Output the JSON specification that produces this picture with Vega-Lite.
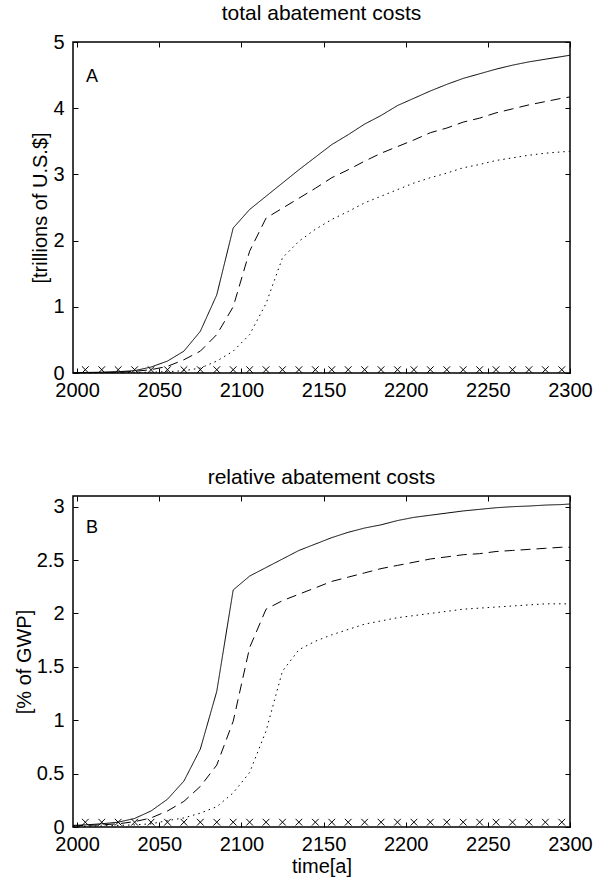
{
  "$schema": "https://vega.github.io/schema/vega-lite/v6.json",
  "padding": {"left": 13, "top": 2, "right": 5, "bottom": 5},
  "background": "white",
  "config": {
    "font": "Liberation Sans",
    "view": {"stroke": "black", "strokeWidth": 1.5},
    "axis": {
      "domain": false, "grid": false, "ticks": true, "tickSize": -5, "tickColor": "black", "tickWidth": 1,
      "labelFont": "Liberation Sans", "labelFontSize": 20, "labelColor": "black",
      "titleFont": "Liberation Sans", "titleFontSize": 20, "titleFontWeight": "normal", "titleColor": "black",
      "labelFlush": false, "labelOverlap": false
    },
    "title": {"font": "Liberation Sans", "fontSize": 21, "fontWeight": "normal", "color": "black", "offset": 8}
  },
  "spacing": 64,
  "datasets": {
    "lines": [
      {"panel":"A","series":"solid","year":1997.5,"value":0.005},
      {"panel":"A","series":"solid","year":2005,"value":0.008},
      {"panel":"A","series":"solid","year":2015,"value":0.012},
      {"panel":"A","series":"solid","year":2025,"value":0.02},
      {"panel":"A","series":"solid","year":2035,"value":0.035},
      {"panel":"A","series":"solid","year":2045,"value":0.09},
      {"panel":"A","series":"solid","year":2055,"value":0.18},
      {"panel":"A","series":"solid","year":2065,"value":0.33},
      {"panel":"A","series":"solid","year":2075,"value":0.63},
      {"panel":"A","series":"solid","year":2085,"value":1.18},
      {"panel":"A","series":"solid","year":2095,"value":2.19},
      {"panel":"A","series":"solid","year":2105,"value":2.47},
      {"panel":"A","series":"solid","year":2115,"value":2.67},
      {"panel":"A","series":"solid","year":2125,"value":2.87},
      {"panel":"A","series":"solid","year":2135,"value":3.07},
      {"panel":"A","series":"solid","year":2145,"value":3.26},
      {"panel":"A","series":"solid","year":2155,"value":3.45},
      {"panel":"A","series":"solid","year":2165,"value":3.6},
      {"panel":"A","series":"solid","year":2175,"value":3.76},
      {"panel":"A","series":"solid","year":2185,"value":3.89},
      {"panel":"A","series":"solid","year":2195,"value":4.04},
      {"panel":"A","series":"solid","year":2205,"value":4.15},
      {"panel":"A","series":"solid","year":2215,"value":4.26},
      {"panel":"A","series":"solid","year":2225,"value":4.36},
      {"panel":"A","series":"solid","year":2235,"value":4.45},
      {"panel":"A","series":"solid","year":2245,"value":4.52},
      {"panel":"A","series":"solid","year":2255,"value":4.59},
      {"panel":"A","series":"solid","year":2265,"value":4.65},
      {"panel":"A","series":"solid","year":2275,"value":4.70},
      {"panel":"A","series":"solid","year":2285,"value":4.74},
      {"panel":"A","series":"solid","year":2295,"value":4.78},
      {"panel":"A","series":"solid","year":2300,"value":4.80},
      {"panel":"A","series":"dashed","year":1997.5,"value":0.003},
      {"panel":"A","series":"dashed","year":2005,"value":0.005},
      {"panel":"A","series":"dashed","year":2015,"value":0.008},
      {"panel":"A","series":"dashed","year":2025,"value":0.012},
      {"panel":"A","series":"dashed","year":2035,"value":0.025},
      {"panel":"A","series":"dashed","year":2045,"value":0.05},
      {"panel":"A","series":"dashed","year":2055,"value":0.10},
      {"panel":"A","series":"dashed","year":2065,"value":0.2},
      {"panel":"A","series":"dashed","year":2075,"value":0.33},
      {"panel":"A","series":"dashed","year":2085,"value":0.58},
      {"panel":"A","series":"dashed","year":2095,"value":1.0},
      {"panel":"A","series":"dashed","year":2105,"value":1.84},
      {"panel":"A","series":"dashed","year":2115,"value":2.34},
      {"panel":"A","series":"dashed","year":2125,"value":2.49},
      {"panel":"A","series":"dashed","year":2135,"value":2.64},
      {"panel":"A","series":"dashed","year":2145,"value":2.79},
      {"panel":"A","series":"dashed","year":2155,"value":2.95},
      {"panel":"A","series":"dashed","year":2165,"value":3.07},
      {"panel":"A","series":"dashed","year":2175,"value":3.2},
      {"panel":"A","series":"dashed","year":2185,"value":3.32},
      {"panel":"A","series":"dashed","year":2195,"value":3.42},
      {"panel":"A","series":"dashed","year":2205,"value":3.52},
      {"panel":"A","series":"dashed","year":2215,"value":3.63},
      {"panel":"A","series":"dashed","year":2225,"value":3.7},
      {"panel":"A","series":"dashed","year":2235,"value":3.79},
      {"panel":"A","series":"dashed","year":2245,"value":3.85},
      {"panel":"A","series":"dashed","year":2255,"value":3.93},
      {"panel":"A","series":"dashed","year":2265,"value":3.99},
      {"panel":"A","series":"dashed","year":2275,"value":4.05},
      {"panel":"A","series":"dashed","year":2285,"value":4.10},
      {"panel":"A","series":"dashed","year":2295,"value":4.15},
      {"panel":"A","series":"dashed","year":2300,"value":4.17},
      {"panel":"A","series":"dotted","year":1997.5,"value":0.001},
      {"panel":"A","series":"dotted","year":2005,"value":0.002},
      {"panel":"A","series":"dotted","year":2015,"value":0.003},
      {"panel":"A","series":"dotted","year":2025,"value":0.005},
      {"panel":"A","series":"dotted","year":2035,"value":0.008},
      {"panel":"A","series":"dotted","year":2045,"value":0.012},
      {"panel":"A","series":"dotted","year":2055,"value":0.02},
      {"panel":"A","series":"dotted","year":2065,"value":0.035},
      {"panel":"A","series":"dotted","year":2075,"value":0.075},
      {"panel":"A","series":"dotted","year":2085,"value":0.18},
      {"panel":"A","series":"dotted","year":2095,"value":0.33},
      {"panel":"A","series":"dotted","year":2105,"value":0.58},
      {"panel":"A","series":"dotted","year":2115,"value":1.05},
      {"panel":"A","series":"dotted","year":2125,"value":1.74},
      {"panel":"A","series":"dotted","year":2135,"value":1.99},
      {"panel":"A","series":"dotted","year":2145,"value":2.17},
      {"panel":"A","series":"dotted","year":2155,"value":2.32},
      {"panel":"A","series":"dotted","year":2165,"value":2.44},
      {"panel":"A","series":"dotted","year":2175,"value":2.57},
      {"panel":"A","series":"dotted","year":2185,"value":2.67},
      {"panel":"A","series":"dotted","year":2195,"value":2.77},
      {"panel":"A","series":"dotted","year":2205,"value":2.87},
      {"panel":"A","series":"dotted","year":2215,"value":2.95},
      {"panel":"A","series":"dotted","year":2225,"value":3.02},
      {"panel":"A","series":"dotted","year":2235,"value":3.1},
      {"panel":"A","series":"dotted","year":2245,"value":3.15},
      {"panel":"A","series":"dotted","year":2255,"value":3.21},
      {"panel":"A","series":"dotted","year":2265,"value":3.25},
      {"panel":"A","series":"dotted","year":2275,"value":3.29},
      {"panel":"A","series":"dotted","year":2285,"value":3.32},
      {"panel":"A","series":"dotted","year":2295,"value":3.34},
      {"panel":"A","series":"dotted","year":2300,"value":3.35},
      {"panel":"B","series":"solid","year":1997.5,"value":0.015},
      {"panel":"B","series":"solid","year":2005,"value":0.02},
      {"panel":"B","series":"solid","year":2015,"value":0.03},
      {"panel":"B","series":"solid","year":2025,"value":0.045},
      {"panel":"B","series":"solid","year":2035,"value":0.08},
      {"panel":"B","series":"solid","year":2045,"value":0.15},
      {"panel":"B","series":"solid","year":2055,"value":0.26},
      {"panel":"B","series":"solid","year":2065,"value":0.43},
      {"panel":"B","series":"solid","year":2075,"value":0.73},
      {"panel":"B","series":"solid","year":2085,"value":1.27},
      {"panel":"B","series":"solid","year":2095,"value":2.22},
      {"panel":"B","series":"solid","year":2105,"value":2.35},
      {"panel":"B","series":"solid","year":2115,"value":2.43},
      {"panel":"B","series":"solid","year":2125,"value":2.51},
      {"panel":"B","series":"solid","year":2135,"value":2.59},
      {"panel":"B","series":"solid","year":2145,"value":2.65},
      {"panel":"B","series":"solid","year":2155,"value":2.71},
      {"panel":"B","series":"solid","year":2165,"value":2.76},
      {"panel":"B","series":"solid","year":2175,"value":2.80},
      {"panel":"B","series":"solid","year":2185,"value":2.83},
      {"panel":"B","series":"solid","year":2195,"value":2.87},
      {"panel":"B","series":"solid","year":2205,"value":2.90},
      {"panel":"B","series":"solid","year":2215,"value":2.92},
      {"panel":"B","series":"solid","year":2225,"value":2.94},
      {"panel":"B","series":"solid","year":2235,"value":2.96},
      {"panel":"B","series":"solid","year":2245,"value":2.975},
      {"panel":"B","series":"solid","year":2255,"value":2.99},
      {"panel":"B","series":"solid","year":2265,"value":3.0},
      {"panel":"B","series":"solid","year":2275,"value":3.006},
      {"panel":"B","series":"solid","year":2285,"value":3.015},
      {"panel":"B","series":"solid","year":2295,"value":3.02},
      {"panel":"B","series":"solid","year":2300,"value":3.025},
      {"panel":"B","series":"dashed","year":1997.5,"value":0.01},
      {"panel":"B","series":"dashed","year":2005,"value":0.015},
      {"panel":"B","series":"dashed","year":2015,"value":0.02},
      {"panel":"B","series":"dashed","year":2025,"value":0.03},
      {"panel":"B","series":"dashed","year":2035,"value":0.05},
      {"panel":"B","series":"dashed","year":2045,"value":0.085},
      {"panel":"B","series":"dashed","year":2055,"value":0.15},
      {"panel":"B","series":"dashed","year":2065,"value":0.24},
      {"panel":"B","series":"dashed","year":2075,"value":0.38},
      {"panel":"B","series":"dashed","year":2085,"value":0.58},
      {"panel":"B","series":"dashed","year":2095,"value":0.99},
      {"panel":"B","series":"dashed","year":2105,"value":1.68},
      {"panel":"B","series":"dashed","year":2115,"value":2.04},
      {"panel":"B","series":"dashed","year":2125,"value":2.12},
      {"panel":"B","series":"dashed","year":2135,"value":2.18},
      {"panel":"B","series":"dashed","year":2145,"value":2.24},
      {"panel":"B","series":"dashed","year":2155,"value":2.30},
      {"panel":"B","series":"dashed","year":2165,"value":2.34},
      {"panel":"B","series":"dashed","year":2175,"value":2.38},
      {"panel":"B","series":"dashed","year":2185,"value":2.42},
      {"panel":"B","series":"dashed","year":2195,"value":2.45},
      {"panel":"B","series":"dashed","year":2205,"value":2.48},
      {"panel":"B","series":"dashed","year":2215,"value":2.51},
      {"panel":"B","series":"dashed","year":2225,"value":2.53},
      {"panel":"B","series":"dashed","year":2235,"value":2.55},
      {"panel":"B","series":"dashed","year":2245,"value":2.56},
      {"panel":"B","series":"dashed","year":2255,"value":2.58},
      {"panel":"B","series":"dashed","year":2265,"value":2.59},
      {"panel":"B","series":"dashed","year":2275,"value":2.60},
      {"panel":"B","series":"dashed","year":2285,"value":2.61},
      {"panel":"B","series":"dashed","year":2295,"value":2.62},
      {"panel":"B","series":"dashed","year":2300,"value":2.62},
      {"panel":"B","series":"dotted","year":1997.5,"value":0.005},
      {"panel":"B","series":"dotted","year":2005,"value":0.007},
      {"panel":"B","series":"dotted","year":2015,"value":0.01},
      {"panel":"B","series":"dotted","year":2025,"value":0.015},
      {"panel":"B","series":"dotted","year":2035,"value":0.02},
      {"panel":"B","series":"dotted","year":2045,"value":0.03},
      {"panel":"B","series":"dotted","year":2055,"value":0.06},
      {"panel":"B","series":"dotted","year":2065,"value":0.085},
      {"panel":"B","series":"dotted","year":2075,"value":0.13},
      {"panel":"B","series":"dotted","year":2085,"value":0.19},
      {"panel":"B","series":"dotted","year":2095,"value":0.32},
      {"panel":"B","series":"dotted","year":2105,"value":0.51},
      {"panel":"B","series":"dotted","year":2115,"value":0.9},
      {"panel":"B","series":"dotted","year":2125,"value":1.46},
      {"panel":"B","series":"dotted","year":2135,"value":1.66},
      {"panel":"B","series":"dotted","year":2145,"value":1.74},
      {"panel":"B","series":"dotted","year":2155,"value":1.80},
      {"panel":"B","series":"dotted","year":2165,"value":1.85},
      {"panel":"B","series":"dotted","year":2175,"value":1.90},
      {"panel":"B","series":"dotted","year":2185,"value":1.93},
      {"panel":"B","series":"dotted","year":2195,"value":1.96},
      {"panel":"B","series":"dotted","year":2205,"value":1.98},
      {"panel":"B","series":"dotted","year":2215,"value":2.0},
      {"panel":"B","series":"dotted","year":2225,"value":2.02},
      {"panel":"B","series":"dotted","year":2235,"value":2.04},
      {"panel":"B","series":"dotted","year":2245,"value":2.05},
      {"panel":"B","series":"dotted","year":2255,"value":2.06},
      {"panel":"B","series":"dotted","year":2265,"value":2.07},
      {"panel":"B","series":"dotted","year":2275,"value":2.08},
      {"panel":"B","series":"dotted","year":2285,"value":2.09},
      {"panel":"B","series":"dotted","year":2295,"value":2.09},
      {"panel":"B","series":"dotted","year":2300,"value":2.09}
    ],
    "markers": [
      {"panel":"A","year":2005,"value":0.05},{"panel":"A","year":2015,"value":0.05},{"panel":"A","year":2025,"value":0.05},
      {"panel":"A","year":2035,"value":0.05},{"panel":"A","year":2045,"value":0.05},{"panel":"A","year":2055,"value":0.05},
      {"panel":"A","year":2065,"value":0.05},{"panel":"A","year":2075,"value":0.05},{"panel":"A","year":2085,"value":0.05},
      {"panel":"A","year":2095,"value":0.05},{"panel":"A","year":2105,"value":0.05},{"panel":"A","year":2115,"value":0.05},
      {"panel":"A","year":2125,"value":0.05},{"panel":"A","year":2135,"value":0.05},{"panel":"A","year":2145,"value":0.05},
      {"panel":"A","year":2155,"value":0.05},{"panel":"A","year":2165,"value":0.05},{"panel":"A","year":2175,"value":0.05},
      {"panel":"A","year":2185,"value":0.05},{"panel":"A","year":2195,"value":0.05},{"panel":"A","year":2205,"value":0.05},
      {"panel":"A","year":2215,"value":0.05},{"panel":"A","year":2225,"value":0.05},{"panel":"A","year":2235,"value":0.05},
      {"panel":"A","year":2245,"value":0.05},{"panel":"A","year":2255,"value":0.05},{"panel":"A","year":2265,"value":0.05},
      {"panel":"A","year":2275,"value":0.05},{"panel":"A","year":2285,"value":0.05},{"panel":"A","year":2295,"value":0.05},
      {"panel":"B","year":2005,"value":0.045},{"panel":"B","year":2015,"value":0.045},{"panel":"B","year":2025,"value":0.045},
      {"panel":"B","year":2035,"value":0.045},{"panel":"B","year":2045,"value":0.045},{"panel":"B","year":2055,"value":0.045},
      {"panel":"B","year":2065,"value":0.045},{"panel":"B","year":2075,"value":0.045},{"panel":"B","year":2085,"value":0.045},
      {"panel":"B","year":2095,"value":0.045},{"panel":"B","year":2105,"value":0.045},{"panel":"B","year":2115,"value":0.045},
      {"panel":"B","year":2125,"value":0.045},{"panel":"B","year":2135,"value":0.045},{"panel":"B","year":2145,"value":0.045},
      {"panel":"B","year":2155,"value":0.045},{"panel":"B","year":2165,"value":0.045},{"panel":"B","year":2175,"value":0.045},
      {"panel":"B","year":2185,"value":0.045},{"panel":"B","year":2195,"value":0.045},{"panel":"B","year":2205,"value":0.045},
      {"panel":"B","year":2215,"value":0.045},{"panel":"B","year":2225,"value":0.045},{"panel":"B","year":2235,"value":0.045},
      {"panel":"B","year":2245,"value":0.045},{"panel":"B","year":2255,"value":0.045},{"panel":"B","year":2265,"value":0.045},
      {"panel":"B","year":2275,"value":0.045},{"panel":"B","year":2285,"value":0.045},{"panel":"B","year":2295,"value":0.045}
    ],
    "letters": [
      {"panel":"A","label":"A","year":2009,"value":4.47},
      {"panel":"B","label":"B","year":2009,"value":2.8}
    ]
  },
  "vconcat": [
    {
      "width": 497, "height": 331,
      "title": {"text": "total abatement costs"},
      "layer": [
        {
          "data": {"name": "lines"},
          "transform": [{"filter": "datum.panel === 'A'"}],
          "mark": {"type": "line", "color": "black", "strokeWidth": 1},
          "encoding": {
            "x": {"field": "year", "type": "quantitative", "scale": {"domain": [1997.5, 2300], "nice": false, "zero": false},
                  "axis": {"orient": "bottom", "values": [2000,2050,2100,2150,2200,2250,2300], "format": "d", "labelPadding": 12, "title": null}},
            "y": {"field": "value", "type": "quantitative", "scale": {"domain": [0, 5], "nice": false},
                  "axis": {"orient": "left", "values": [0,1,2,3,4,5], "format": "d", "labelPadding": 14, "title": "[trillions of U.S.$]", "titlePadding": 2}},
            "strokeDash": {"field": "series", "type": "nominal", "scale": {"domain": ["solid","dashed","dotted"], "range": [[1,0],[10,6],[1.5,4]]}, "legend": null}
          }
        },
        {
          "data": {"name": "markers"},
          "transform": [{"filter": "datum.panel === 'A'"}],
          "mark": {"type": "point", "shape": "M-1,-1L1,1M-1,1L1,-1", "size": 45, "color": "black", "filled": false, "strokeWidth": 1, "opacity": 1},
          "encoding": {
            "x": {"field": "year", "type": "quantitative", "axis": {"orient": "top", "values": [2000,2050,2100,2150,2200,2250,2300], "labels": false, "title": null}},
            "y": {"field": "value", "type": "quantitative", "axis": {"orient": "right", "values": [0,1,2,3,4,5], "labels": false, "title": null}}
          }
        },
        {
          "data": {"name": "letters"},
          "transform": [{"filter": "datum.panel === 'A'"}],
          "mark": {"type": "text", "fontSize": 18, "font": "Liberation Sans", "color": "black"},
          "encoding": {
            "x": {"field": "year", "type": "quantitative", "axis": null},
            "y": {"field": "value", "type": "quantitative", "axis": null},
            "text": {"field": "label"}
          }
        }
      ],
      "resolve": {"axis": {"x": "independent", "y": "independent"}}
    },
    {
      "width": 497, "height": 331,
      "title": {"text": "relative abatement costs"},
      "layer": [
        {
          "data": {"name": "lines"},
          "transform": [{"filter": "datum.panel === 'B'"}],
          "mark": {"type": "line", "color": "black", "strokeWidth": 1},
          "encoding": {
            "x": {"field": "year", "type": "quantitative", "scale": {"domain": [1997.5, 2300], "nice": false, "zero": false},
                  "axis": {"orient": "bottom", "values": [2000,2050,2100,2150,2200,2250,2300], "format": "d", "labelPadding": 12, "title": "time[a]", "titlePadding": 2}},
            "y": {"field": "value", "type": "quantitative", "scale": {"domain": [0, 3.1], "nice": false},
                  "axis": {"orient": "left", "values": [0,0.5,1,1.5,2,2.5,3], "format": "~g", "labelPadding": 14, "title": "[% of GWP]", "titlePadding": 2}},
            "strokeDash": {"field": "series", "type": "nominal", "scale": {"domain": ["solid","dashed","dotted"], "range": [[1,0],[10,6],[1.5,4]]}, "legend": null}
          }
        },
        {
          "data": {"name": "markers"},
          "transform": [{"filter": "datum.panel === 'B'"}],
          "mark": {"type": "point", "shape": "M-1,-1L1,1M-1,1L1,-1", "size": 45, "color": "black", "filled": false, "strokeWidth": 1, "opacity": 1},
          "encoding": {
            "x": {"field": "year", "type": "quantitative", "axis": {"orient": "top", "values": [2000,2050,2100,2150,2200,2250,2300], "labels": false, "title": null}},
            "y": {"field": "value", "type": "quantitative", "axis": {"orient": "right", "values": [0,0.5,1,1.5,2,2.5,3], "labels": false, "title": null}}
          }
        },
        {
          "data": {"name": "letters"},
          "transform": [{"filter": "datum.panel === 'B'"}],
          "mark": {"type": "text", "fontSize": 18, "font": "Liberation Sans", "color": "black"},
          "encoding": {
            "x": {"field": "year", "type": "quantitative", "axis": null},
            "y": {"field": "value", "type": "quantitative", "axis": null},
            "text": {"field": "label"}
          }
        }
      ],
      "resolve": {"axis": {"x": "independent", "y": "independent"}}
    }
  ]
}
